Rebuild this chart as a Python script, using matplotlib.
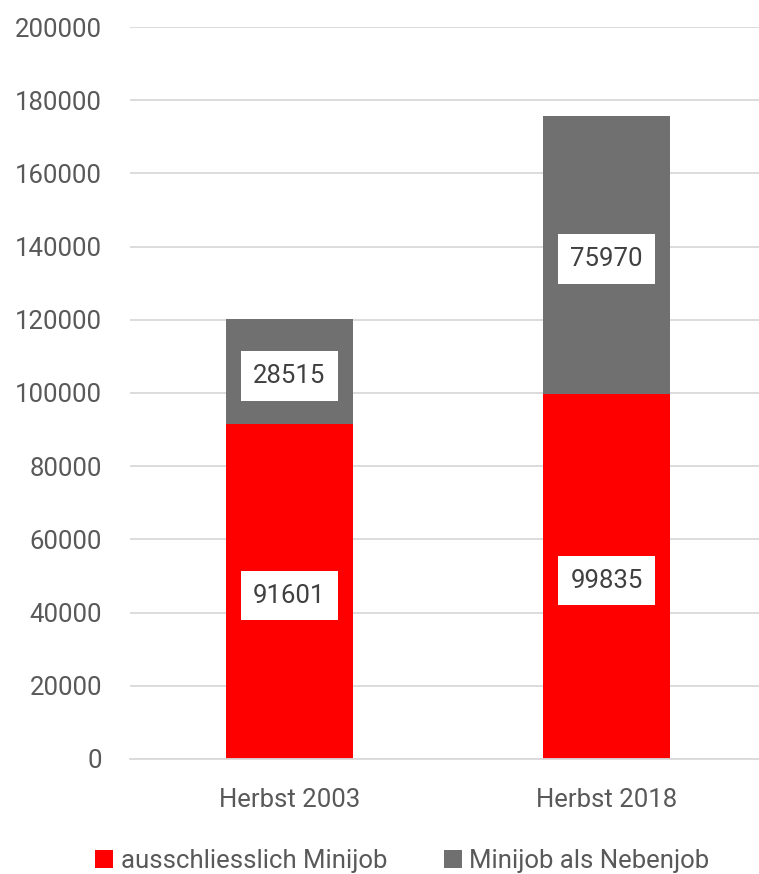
import matplotlib.pyplot as plt
import numpy as np

plt.rcParams['font.family'] = ['Roboto', 'DejaVu Sans']

categories = ["Herbst 2003", "Herbst 2018"]
ausschl = [91601, 99835]
neben = [28515, 75970]
series_names = ["ausschliesslich Minijob", "Minijob als Nebenjob"]

red = "#ff0000"
gray = "#707070"
txt = "#595959"

fig = plt.figure(figsize=(7.59, 8.74), dpi=100)
ax = fig.add_axes([0.171, 0.1316, 0.829, 0.8375])

x = np.arange(len(categories))
b1 = ax.bar(x, ausschl, width=0.4, color=red, label=series_names[0], zorder=2)
b2 = ax.bar(x, neben, width=0.4, bottom=ausschl, color=gray, label=series_names[1], zorder=2)

# value labels in white boxes, a little below the segment middle
for bars, vals, bottoms in [(b1, ausschl, [0, 0]), (b2, neben, ausschl)]:
    for xi, v, b in zip(x, vals, bottoms):
        ax.text(xi, b + v / 2 - 1200, str(v), ha="center", va="center", fontsize=18.5,
                color="#404040", zorder=3,
                bbox=dict(facecolor="white", edgecolor="none", pad=9))

ax.set_ylim(0, 200000)
ax.set_xlim(-0.503, 1.481)
ax.set_yticks(np.arange(0, 200001, 20000))
ax.set_xticks(x)
ax.set_xticklabels(categories)
ax.yaxis.grid(True, color="#d9d9d9", linewidth=1.3, zorder=0)
ax.set_axisbelow(True)
for s in ["top", "right", "left"]:
    ax.spines[s].set_visible(False)
ax.spines["bottom"].set_color("#d9d9d9")
ax.spines["bottom"].set_linewidth(1.3)
ax.tick_params(axis="both", length=0, labelsize=18.5, colors=txt)
ax.tick_params(axis="x", pad=21)
ax.tick_params(axis="y", pad=20)

leg = fig.legend(loc="lower center", bbox_to_anchor=(0.53, -0.025), ncol=2, frameon=False,
                 fontsize=18.5, handlelength=0.7, handleheight=0.7, handletextpad=0.3,
                 columnspacing=2.2)
for t in leg.get_texts():
    t.set_color(txt)

fig.savefig("out.png", dpi=100)
